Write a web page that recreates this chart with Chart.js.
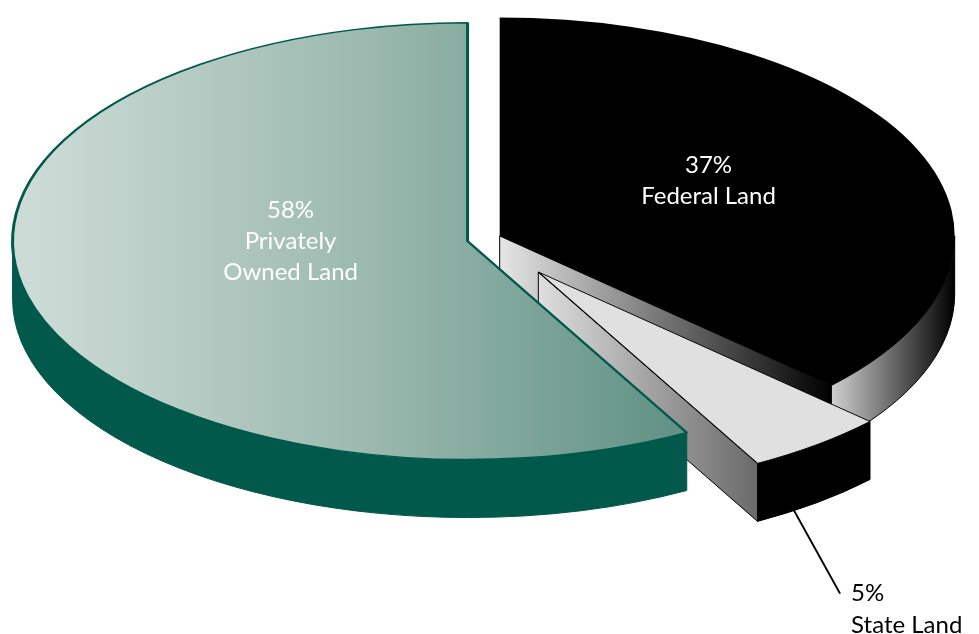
<!DOCTYPE html>
<html>
<head>
<meta charset="utf-8">
<style>
    html, body { margin: 0; padding: 0; background: #ffffff; }
    #wrap { width: 979px; height: 634px; }
</style>
</head>
<body>
<div id="wrap"><canvas id="grafico" width="979" height="634"></canvas></div>
<script src="https://cdn.jsdelivr.net/npm/chart.js@4.4.1/dist/chart.umd.min.js"></script>
<script>
// --- DADOS ---
const categorias = ['Federal Land', 'State Land', 'Privately Owned Land'];
const percentuais = [37, 5, 58];
const linhasRotulo = [['Federal Land'], ['State Land'], ['Privately', 'Owned Land']];

// --- ESTILO 3D ---
const ACHATAMENTO = 0.48;      // disco visto inclinado
const ESPESSURA = 58;          // altura da parede em px
const RAIO = 455;
const EXPLODE = [16, 87, 18];  // deslocamento de cada fatia pela bissetriz

const TOPO = ['#000000', '#e0e0e0', null]; // null = gradiente verde
const BORDA = ['#000000', '#000000', '#00594b'];
const LARGURA_BORDA = [0, 1.5, 3];

const PAREDES = [
    { corte: ['#e6e6e6', '#000000'], parede: ['#d0d0d0', '#000000'], linha: '#000000' },
    { corte: ['#dedede', '#6a6a6a'], parede: '#000000', linha: '#000000' },
    { corte: null, parede: '#00594b', linha: '#00594b' }
];

const FONTE = '24px Lato, "Open Sans", sans-serif';
const ALTURA_LINHA = 31;
// posição da primeira linha do rótulo, relativa ao centro da fatia (fração dos raios)
const POS_ROTULO = [{ dx: 0.459, dy: -0.289 }, null, { dx: -0.389, dy: -0.105 }];

// --- 1. FUNÇÕES AUXILIARES ---

function centroY(chart) {
    const a = chart.chartArea;
    return (a.top + a.bottom) / 2;
}

function corTopo(c) {
    const i = c.dataIndex;
    if (TOPO[i]) return TOPO[i];
    const { ctx, chartArea } = c.chart;
    if (!chartArea) return '#9bbab0';
    const meioX = (chartArea.left + chartArea.right) / 2;
    const g = ctx.createLinearGradient(meioX - RAIO, 0, meioX + RAIO * 0.48, 0);
    g.addColorStop(0, '#cddbd6');
    g.addColorStop(0.5, '#9bb9af');
    g.addColorStop(1, '#5c8f81');
    return g;
}

function desenharParedes(ctx, arc, i, cy) {
    const R = arc.outerRadius, ry = R * ACHATAMENTO, D = ESPESSURA;
    const sx = arc.x, sy = cy + (arc.y - cy) * ACHATAMENTO;
    const borda = (a) => ({ x: sx + R * Math.cos(a), y: sy + ry * Math.sin(a) });
    const estilo = PAREDES[i];

    ctx.save();
    ctx.lineWidth = 1;
    ctx.lineJoin = 'round';
    ctx.strokeStyle = estilo.linha;

    // faces de corte (só as que olham para a frente)
    [arc.startAngle, arc.endAngle].forEach((a, lado) => {
        const visivel = lado === 0 ? Math.cos(a) < -1e-3 : Math.cos(a) > 1e-3;
        if (!visivel || !estilo.corte) return;
        const p = borda(a);
        const g = ctx.createLinearGradient(sx, 0, p.x, 0);
        g.addColorStop(0, estilo.corte[0]);
        g.addColorStop(1, estilo.corte[1]);
        ctx.beginPath();
        ctx.moveTo(sx, sy);
        ctx.lineTo(p.x, p.y);
        ctx.lineTo(p.x, p.y + D);
        ctx.lineTo(sx, sy + D);
        ctx.closePath();
        ctx.fillStyle = g;
        ctx.fill();
        ctx.stroke();
    });

    // parede externa: metade da frente
    for (let k = -1; k <= 1; k++) {
        const a0 = Math.max(arc.startAngle, 2 * Math.PI * k);
        const a1 = Math.min(arc.endAngle, Math.PI + 2 * Math.PI * k);
        if (a1 <= a0) continue;
        let fill = estilo.parede;
        if (Array.isArray(fill)) {
            const p0 = borda(a0), p1 = borda(a1);
            const g = ctx.createLinearGradient(p1.x, 0, p0.x, 0);
            g.addColorStop(0, fill[0]);
            g.addColorStop(1, fill[1]);
            fill = g;
        }
        ctx.beginPath();
        ctx.ellipse(sx, sy, R, ry, 0, a0, a1);
        ctx.ellipse(sx, sy + D, R, ry, 0, a1, a0, true);
        ctx.closePath();
        ctx.fillStyle = fill;
        ctx.fill();
        ctx.stroke();
    }
    ctx.restore();
}

function desenharRotulos(chart) {
    const ctx = chart.ctx;
    const cy = centroY(chart);
    const arcs = chart.getDatasetMeta(0).data;
    ctx.save();
    ctx.font = FONTE;
    ctx.textBaseline = 'alphabetic';

    arcs.forEach((arc, i) => {
        const R = arc.outerRadius, ry = R * ACHATAMENTO;
        const sx = arc.x, sy = cy + (arc.y - cy) * ACHATAMENTO;
        const linhas = [percentuais[i] + '%', ...linhasRotulo[i]];
        const pos = POS_ROTULO[i];

        if (pos) {
            ctx.fillStyle = '#ffffff';
            ctx.textAlign = 'center';
            linhas.forEach((t, n) => {
                ctx.fillText(t, sx + pos.dx * R, sy + pos.dy * ry + n * ALTURA_LINHA);
            });
        } else {
            // fatia pequena: rótulo fora com linha de chamada
            const a = arc.startAngle + 0.7 * (arc.endAngle - arc.startAngle);
            const x0 = sx + R * Math.cos(a), y0 = sy + ry * Math.sin(a) + ESPESSURA;
            const x1 = x0 + 46, y1 = y0 + 83;
            ctx.strokeStyle = '#000000';
            ctx.lineWidth = 2;
            ctx.beginPath();
            ctx.moveTo(x0, y0);
            ctx.lineTo(x1, y1);
            ctx.stroke();
            ctx.fillStyle = '#000000';
            ctx.textAlign = 'left';
            linhas.forEach((t, n) => {
                ctx.fillText(t, x1 + 11, y1 + 7 + n * 32);
            });
        }
    });
    ctx.restore();
}

// --- 2. PLUGIN DA PIZZA 3D ---

const pizza3d = {
    id: 'pizza3d',
    afterDatasetsUpdate(chart) {
        chart.getDatasetMeta(0).data.forEach((arc, i) => {
            const meio = (arc.startAngle + arc.endAngle) / 2;
            arc.x += Math.cos(meio) * EXPLODE[i];
            arc.y += Math.sin(meio) * EXPLODE[i];
        });
    },
    beforeDatasetsDraw(chart) {
        const ctx = chart.ctx;
        const cy = centroY(chart);
        chart.getDatasetMeta(0).data.forEach((arc, i) => desenharParedes(ctx, arc, i, cy));
        // o topo das fatias é desenhado pelo Chart.js num espaço achatado
        ctx.save();
        ctx.translate(0, cy);
        ctx.scale(1, ACHATAMENTO);
        ctx.translate(0, -cy);
    },
    afterDatasetsDraw(chart) {
        chart.ctx.restore();
        desenharRotulos(chart);
    }
};

// --- 3. GRÁFICO ---

new Chart(document.getElementById('grafico'), {
    type: 'pie',
    data: {
        labels: categorias,
        datasets: [{
            data: percentuais,
            backgroundColor: corTopo,
            borderColor: BORDA,
            borderWidth: LARGURA_BORDA,
            clip: false
        }]
    },
    options: {
        responsive: false,
        animation: false,
        devicePixelRatio: 1,
        events: [],
        radius: RAIO,
        layout: { padding: { left: 0, right: 9, top: 0, bottom: 156 } },
        plugins: {
            legend: { display: false },
            tooltip: { enabled: false }
        }
    },
    plugins: [pizza3d]
});
</script>
</body>
</html>
